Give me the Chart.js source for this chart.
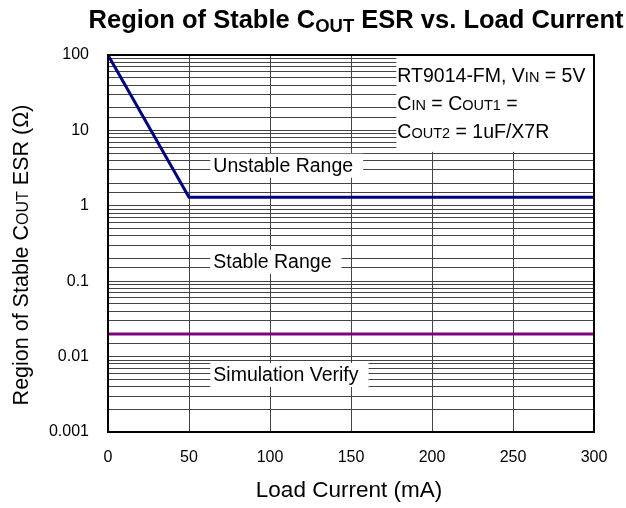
<!DOCTYPE html>
<html>
<head>
<meta charset="utf-8">
<script src="https://cdn.jsdelivr.net/npm/chart.js@4.4.1/dist/chart.umd.min.js"></script>
<style>
	body { margin: 0; background: #fff; }
	canvas { display: block; }
</style>
</head>
<body>
<canvas id="grafica_esr" width="626" height="508"></canvas>
<script>
// datos
const loadCurrent = [0, 50, 300];
const esrLimit = [100, 1.3, 1.3];
const simCurrent = [0, 300];
const simEsr = [0.02, 0.02];
const xTicks = [0, 50, 100, 150, 200, 250, 300];
const yTicks = ['0.001', '0.01', '0.1', '1', '10', '100'];

const FONT = '"Liberation Sans", Arial, sans-serif';

// texto con subindices: parts = [texto, tamano, bold, desplazamiento]
function rich(ctx, parts, x, y, align) {
	let total = 0;
	parts.forEach(p => {
		ctx.font = (p[2] ? 'bold ' : '') + p[1] + 'px ' + FONT;
		total += ctx.measureText(p[0]).width;
	});
	let cx = align === 'center' ? x - total / 2 : x;
	ctx.textBaseline = 'alphabetic';
	ctx.textAlign = 'left';
	parts.forEach(p => {
		ctx.font = (p[2] ? 'bold ' : '') + p[1] + 'px ' + FONT;
		ctx.fillText(p[0], cx, y + (p[3] || 0));
		cx += ctx.measureText(p[0]).width;
	});
}

// etiqueta con fondo blanco
function label(ctx, text, x, y) {
	ctx.font = '19.5px ' + FONT;
	const w = ctx.measureText(text).width;
	ctx.fillStyle = '#fff';
	ctx.fillRect(x - 3, y - 12, w + 13, 24);
	ctx.fillStyle = '#000';
	ctx.textBaseline = 'middle';
	ctx.textAlign = 'left';
	ctx.fillText(text, x, y + 1);
}

const notes = {
	id: 'notes',
	beforeDatasetsDraw(chart) {
		const ctx = chart.ctx;
		const a = chart.chartArea;
		const x = chart.scales.x;
		const y = chart.scales.y;
		ctx.save();
		label(ctx, 'Unstable Range', x.getPixelForValue(65), y.getPixelForValue(3.4));
		label(ctx, 'Stable Range', x.getPixelForValue(65), y.getPixelForValue(0.18));
		label(ctx, 'Simulation Verify', x.getPixelForValue(65), y.getPixelForValue(0.0057));

		// cuadro de condiciones
		const bx = x.getPixelForValue(178);
		ctx.fillStyle = '#fff';
		ctx.fillRect(bx, a.top, a.right - bx, y.getPixelForValue(5.2) - a.top);
		ctx.fillStyle = '#000';
		rich(ctx, [['RT9014-FM, V', 19.5], ['IN', 14.5], [' = 5V', 19.5]], bx + 1, a.top + 27);
		rich(ctx, [['C', 19.5], ['IN', 14.5], [' = C', 19.5], ['OUT1', 14.5], [' =', 19.5]], bx + 1, a.top + 55);
		rich(ctx, [['C', 19.5], ['OUT2', 14.5], [' = 1uF/X7R', 19.5]], bx + 1, a.top + 83);
		ctx.restore();
	},
	afterDraw(chart) {
		const ctx = chart.ctx;
		const a = chart.chartArea;
		ctx.save();
		ctx.strokeStyle = '#000';
		ctx.lineWidth = 2;
		ctx.strokeRect(a.left, a.top, a.right - a.left, a.bottom - a.top);

		ctx.fillStyle = '#000';
		rich(ctx, [['Region of Stable C', 25.5, true], ['OUT', 18.5, true, 4], [' ESR vs. Load Current', 25.5, true]], 356, 28, 'center');
		rich(ctx, [['Load Current (mA)', 22.5]], 349, 497, 'center');

		ctx.translate(28, 255);
		ctx.rotate(-Math.PI / 2);
		rich(ctx, [['Region of Stable C', 21.5], ['OUT', 16], [' ESR (\u03A9)', 21.5]], 0, 0, 'center');
		ctx.restore();
	}
};

function Grafica() {
	const canvas2d = document.getElementById('grafica_esr').getContext('2d');
	const isDecade = v => Math.abs(Math.log10(v) - Math.round(Math.log10(v))) < 1e-6;

	new Chart(canvas2d, {
		type: 'line',
		data: {
			datasets: [
				{
					label: 'ESR limit',
					data: loadCurrent.map((c, i) => ({ x: c, y: esrLimit[i] })),
					borderColor: '#000080',
					borderWidth: 3,
					pointRadius: 0,
					tension: 0
				},
				{
					label: 'Simulation',
					data: simCurrent.map((c, i) => ({ x: c, y: simEsr[i] })),
					borderColor: '#800080',
					borderWidth: 3,
					pointRadius: 0,
					tension: 0
				}
			]
		},
		options: {
			responsive: false,
			animation: false,
			layout: { padding: { left: 0, right: 32, top: 55, bottom: 0 } },
			plugins: {
				legend: { display: false },
				title: { display: false },
				tooltip: { enabled: false }
			},
			scales: {
				x: {
					type: 'linear',
					min: xTicks[0],
					max: xTicks[xTicks.length - 1],
					afterBuildTicks: s => { s.ticks = xTicks.map(v => ({ value: v })); },
					afterFit: s => { s.height = 76; },
					grid: { color: '#444', lineWidth: 1, drawTicks: false },
					border: { display: false },
					ticks: { color: '#000', font: { size: 16, family: FONT }, padding: 16, maxRotation: 0 }
				},
				y: {
					type: 'logarithmic',
					min: 0.001,
					max: 100,
					afterFit: s => { s.width = 108; },
					grid: { color: '#444', lineWidth: 1, drawTicks: false },
					border: { display: false },
					ticks: {
						autoSkip: false,
						color: '#000',
						font: { size: 16, family: FONT },
						padding: 19,
						callback: v => isDecade(v) ? yTicks[Math.round(Math.log10(v)) + 3] : ''
					}
				}
			}
		},
		plugins: [notes]
	});
}

Grafica();
</script>
</body>
</html>
